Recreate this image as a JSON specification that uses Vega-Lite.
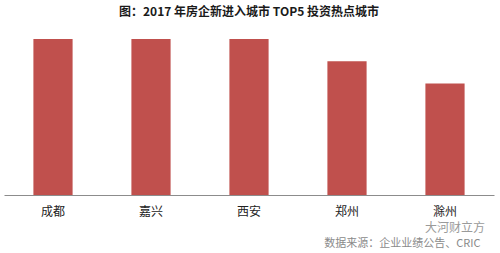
{
  "$schema": "https://vega.github.io/schema/vega-lite/v6.json",
  "autosize": "none",
  "width": 490,
  "height": 156,
  "padding": {"left": 4, "top": 39, "right": 6, "bottom": 58},
  "background": "white",
  "config": {
    "view": {"stroke": null},
    "font": "Noto Sans CJK SC"
  },
  "title": {
    "text": "图：2017 年房企新进入城市 TOP5 投资热点城市",
    "fontSize": 12,
    "fontWeight": "bold",
    "color": "#1a1a1a",
    "anchor": "middle",
    "offset": 20
  },
  "data": {
    "values": [
      {"city": "成都", "value": 7},
      {"city": "嘉兴", "value": 7},
      {"city": "西安", "value": 7},
      {"city": "郑州", "value": 6},
      {"city": "滁州", "value": 5}
    ]
  },
  "layer": [
    {
      "mark": {"type": "bar", "color": "#C0504D"},
      "encoding": {
        "x": {
          "field": "city",
          "type": "nominal",
          "sort": null,
          "scale": {"paddingInner": 0.6, "paddingOuter": 0.3},
          "axis": {
            "title": "数据来源：企业业绩公告、CRIC",
            "titleX": 476,
            "titleY": 48,
            "titleAlign": "right",
            "titleBaseline": "middle",
            "titleColor": "#8a8a8a",
            "titleFontSize": 11,
            "titleFontWeight": "normal",
            "labelAngle": 0,
            "labelFontSize": 12,
            "labelColor": "#222222",
            "labelPadding": 11,
            "ticks": false,
            "domainColor": "#8c8c8c",
            "domainWidth": 1
          }
        },
        "y": {
          "field": "value",
          "type": "quantitative",
          "scale": {"domain": [0, 7], "nice": false},
          "axis": null
        }
      }
    },
    {
      "data": {"values": [{"city": "滁州", "value": 0, "mark": "大河财立方"}]},
      "mark": {
        "type": "text",
        "align": "center",
        "baseline": "middle",
        "dx": 10,
        "dy": 33,
        "fontSize": 12,
        "color": "#9a9a9a"
      },
      "encoding": {
        "x": {"field": "city", "type": "nominal", "sort": ["成都", "嘉兴", "西安", "郑州", "滁州"]},
        "y": {"field": "value", "type": "quantitative"},
        "text": {"field": "mark"}
      }
    }
  ]
}
